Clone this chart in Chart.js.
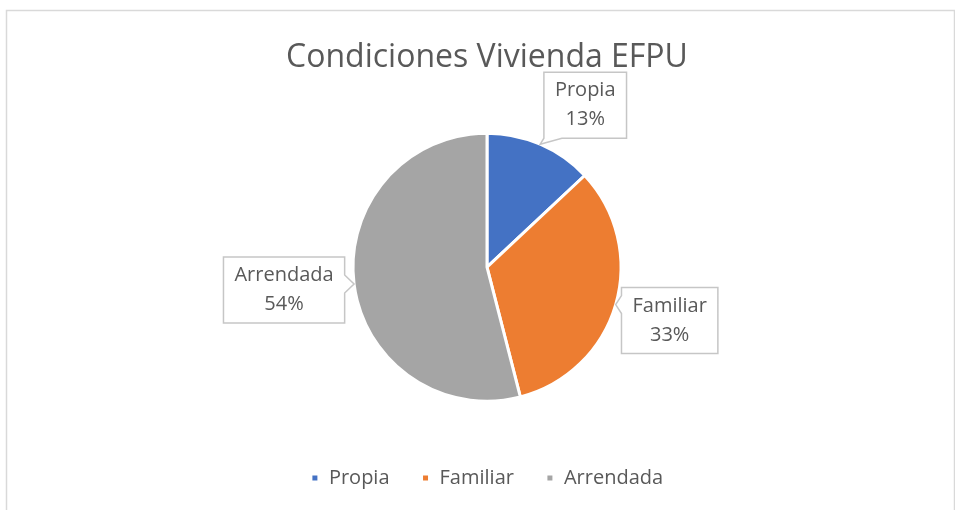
<!DOCTYPE html>
<html>
<head>
<meta charset="utf-8">
<title>Condiciones Vivienda EFPU</title>
<script src="https://cdn.jsdelivr.net/npm/chart.js@4/dist/chart.umd.min.js"></script>
<style>
  html, body { margin: 0; padding: 0; background: #fff; }
  canvas { display: block; }
</style>
</head>
<body>
<canvas id="chart" width="955" height="510"></canvas>
<script>
// datos
const categories = ['Propia', 'Familiar', 'Arrendada'];
const values = [13, 33, 54];
const colors = ['#4472C4', '#ED7D31', '#A5A5A5'];

// posición de cada etiqueta (centro de la caja respecto a la punta)
const calloutOffsets = [[45, -39], [54, 16], [-70, 6]];

const FONT = '"Open Sans", "Noto Sans", sans-serif';
const TEXT_COLOR = '#595959';

// marco exterior del gráfico
const framePlugin = {
  id: 'frame',
  beforeDraw(chart) {
    const ctx = chart.ctx;
    ctx.save();
    ctx.fillStyle = '#fff';
    ctx.fillRect(0, 0, chart.width, chart.height);
    ctx.strokeStyle = '#d9d9d9';
    ctx.lineWidth = 1.5;
    ctx.strokeRect(6.5, 10.5, 948, 520);
    ctx.restore();
  }
};

// etiquetas tipo "llamada" como en Excel
const calloutPlugin = {
  id: 'callouts',
  afterDatasetsDraw(chart) {
    const ctx = chart.ctx;
    const meta = chart.getDatasetMeta(0);
    const clamp = (v, a, b) => Math.min(Math.max(v, a), b);
    ctx.save();
    ctx.font = '20px ' + FONT;
    meta.data.forEach((arc, i) => {
      const p = arc.getProps(['x', 'y', 'startAngle', 'endAngle', 'outerRadius'], true);
      const mid = (p.startAngle + p.endAngle) / 2;
      const tipX = p.x + Math.cos(mid) * p.outerRadius;
      const tipY = p.y + Math.sin(mid) * p.outerRadius;
      const lines = [categories[i], values[i] + '%'];
      const w = Math.max(...lines.map(t => ctx.measureText(t).width)) + 22;
      const h = 66;
      const cx = tipX + calloutOffsets[i][0];
      const cy = tipY + calloutOffsets[i][1];
      const l = cx - w / 2, r = cx + w / 2, t = cy - h / 2, b = cy + h / 2;

      const dxOut = tipX < l ? l - tipX : (tipX > r ? tipX - r : 0);
      const dyOut = tipY < t ? t - tipY : (tipY > b ? tipY - b : 0);
      let side;
      if (dyOut >= dxOut) side = tipY < t ? 'top' : 'bottom';
      else side = tipX < l ? 'left' : 'right';

      const hw = 9;
      ctx.beginPath();
      ctx.moveTo(l, t);
      if (side === 'top') {
        const c = clamp(tipX, l + hw, r - hw);
        ctx.lineTo(c - hw, t); ctx.lineTo(tipX, tipY); ctx.lineTo(c + hw, t);
      }
      ctx.lineTo(r, t);
      if (side === 'right') {
        const c = clamp(tipY, t + hw, b - hw);
        ctx.lineTo(r, c - hw); ctx.lineTo(tipX, tipY); ctx.lineTo(r, c + hw);
      }
      ctx.lineTo(r, b);
      if (side === 'bottom') {
        const c = clamp(tipX, l + hw, r - hw);
        ctx.lineTo(c + hw, b); ctx.lineTo(tipX, tipY); ctx.lineTo(c - hw, b);
      }
      ctx.lineTo(l, b);
      if (side === 'left') {
        const c = clamp(tipY, t + hw, b - hw);
        ctx.lineTo(l, c + hw); ctx.lineTo(tipX, tipY); ctx.lineTo(l, c - hw);
      }
      ctx.closePath();
      ctx.fillStyle = '#fff';
      ctx.fill();
      ctx.strokeStyle = '#c6c6c6';
      ctx.lineWidth = 1.5;
      ctx.stroke();

      ctx.fillStyle = TEXT_COLOR;
      ctx.textAlign = 'center';
      ctx.textBaseline = 'middle';
      ctx.fillText(lines[0], cx, cy - 14.5);
      ctx.fillText(lines[1], cx, cy + 14.5);
    });
    ctx.restore();
  }
};

new Chart(document.getElementById('chart'), {
  type: 'pie',
  data: {
    labels: categories,
    datasets: [{
      data: values,
      backgroundColor: colors,
      borderColor: '#fff',
      borderWidth: 3,
      radius: 134,
    }],
  },
  options: {
    responsive: false,
    animation: false,
    devicePixelRatio: 1,
    layout: { padding: { top: 0, bottom: 12, left: 29, right: 10 } },
    plugins: {
      title: {
        display: true,
        text: 'Condiciones Vivienda EFPU',
        color: TEXT_COLOR,
        font: { family: FONT, size: 32, weight: 'normal' },
        padding: { top: 39, bottom: 21 },
      },
      legend: {
        position: 'bottom',
        labels: {
          color: TEXT_COLOR,
          font: { family: FONT, size: 20 },
          boxWidth: 8,
          boxHeight: 8,
          padding: 32,
        },
      },
      tooltip: { enabled: false },
    },
  },
  plugins: [framePlugin, calloutPlugin],
});
</script>
</body>
</html>
